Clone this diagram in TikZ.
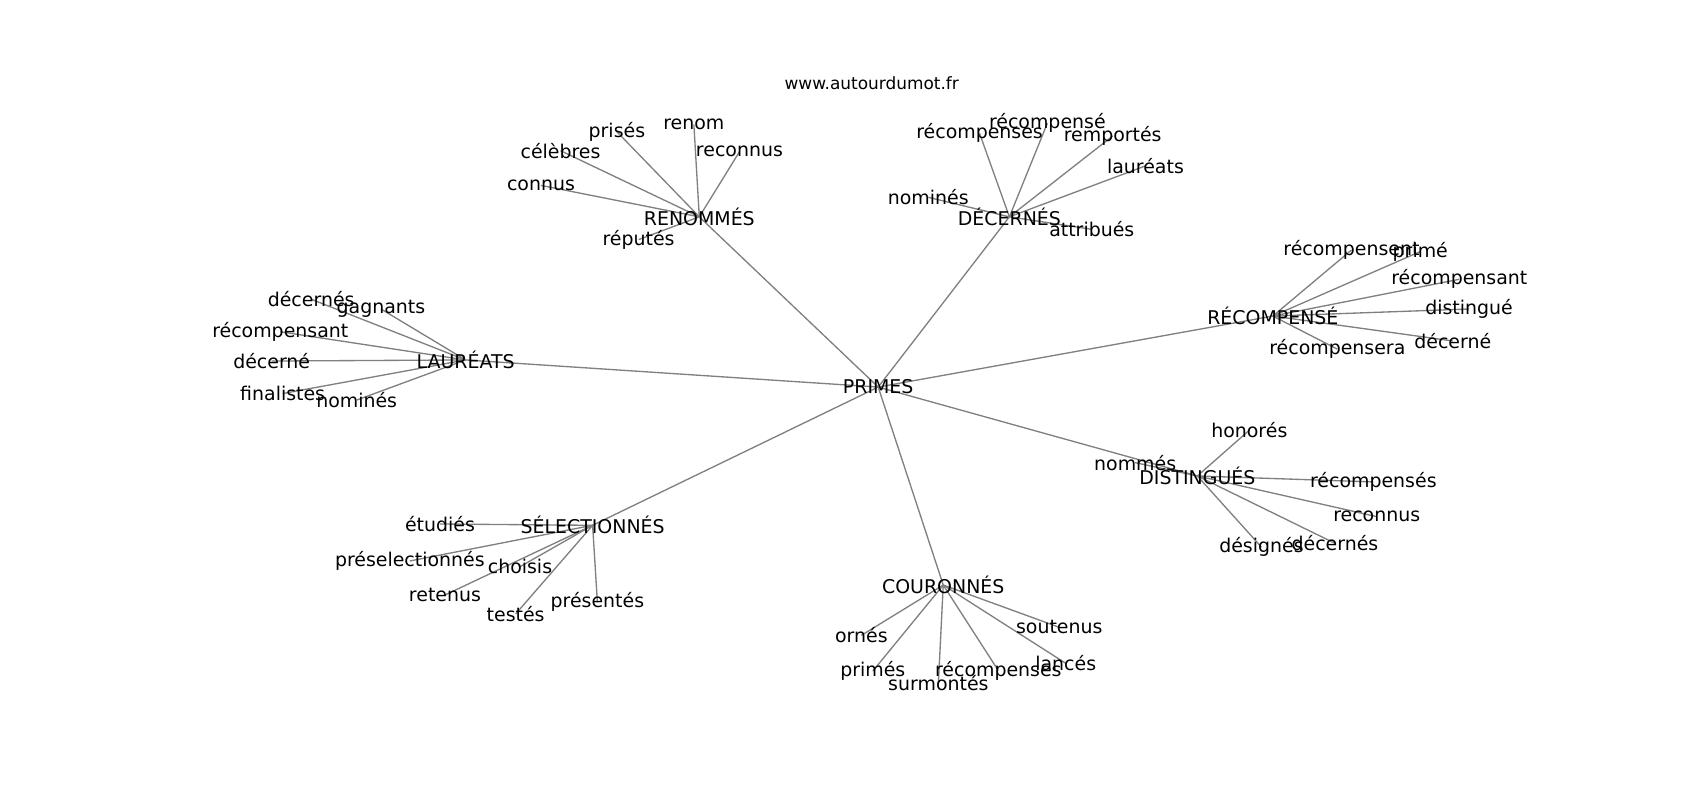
\documentclass[tikz,border=0pt]{standalone}
\usepackage{fontspec}
\setmainfont{DejaVu Sans}
\usetikzlibrary{backgrounds}
\begin{document}
\begin{tikzpicture}[x=0.81314pt,y=-0.81314pt,
  lbl/.style={inner sep=0pt, text=black, font=\fontsize{14.2}{17}\selectfont},
  ttl/.style={inner sep=0pt, text=black, font=\fontsize{12.7}{15}\selectfont},
  edge/.style={draw=gray, line width=1pt}]
\useasboundingbox (0,0) rectangle (1568,738);
\node[ttl] (title) at (804,76.3) {www.autourdumot.fr};
\begin{scope}
\clip (197,88.5) rectangle (1411,656.7);
% hub
\node[lbl] (primes) at (810,357) {PRIMES};
% RENOMMÉS
\node[lbl] (renommes) at (645,200) {RENOMMÉS};
\node[lbl] (renom) at (640,115) {renom};
\node[lbl] (reconnusA) at (682,140) {reconnus};
\node[lbl] (prises) at (569,121.5) {prisés};
\node[lbl] (celebres) at (517,139) {célèbres};
\node[lbl] (connus) at (499,171) {connus};
\node[lbl] (reputes) at (589,221) {réputés};
% DÉCERNÉS
\node[lbl] (decernes) at (931,200) {DÉCERNÉS};
\node[lbl] (recompenseA) at (966,113.7) {récompensé};
\node[lbl] (recompensesA) at (903.5,123) {récompenses};
\node[lbl] (remportes) at (1026.3,125.4) {remportés};
\node[lbl] (laureatsA) at (1056.5,153) {lauréats};
\node[lbl] (nominesA) at (856.2,182) {nominés};
\node[lbl] (attribues) at (1007,211.5) {attribués};
% RÉCOMPENSÉ
\node[lbl] (recompense) at (1174,291.5) {RÉCOMPENSÉ};
\node[lbl] (recompensent) at (1246.5,230.6) {récompensent};
\node[lbl] (prime) at (1310,232) {primé};
\node[lbl] (recompensantA) at (1346,257.6) {récompensant};
\node[lbl] (distingue) at (1355,285) {distingué};
\node[lbl] (decerneA) at (1340,314.5) {décerné};
\node[lbl] (recompensera) at (1233.5,322) {récompensera};
% LAURÉATS
\node[lbl] (laureats) at (429.5,332) {LAURÉATS};
\node[lbl] (decernesB) at (287,276) {décernés};
\node[lbl] (gagnants) at (351.4,285) {gagnants};
\node[lbl] (recompensantB) at (258.5,306) {récompensant};
\node[lbl] (decerneB) at (250.6,333) {décerné};
\node[lbl] (finalistes) at (260.7,363) {finalistes};
\node[lbl] (nominesB) at (329,369) {nominés};
% SÉLECTIONNÉS
\node[lbl] (selectionnes) at (546.6,484.5) {SÉLECTIONNÉS};
\node[lbl] (etudies) at (405.8,483.3) {étudiés};
\node[lbl] (preselectionnes) at (378,517.4) {préselectionnés};
\node[lbl] (choisis) at (479.6,522.7) {choisis};
\node[lbl] (retenus) at (410.4,548.8) {retenus};
\node[lbl] (testes) at (475.6,566.3) {testés};
\node[lbl] (presentes) at (551,555.5) {présentés};
% COURONNÉS
\node[lbl] (couronnes) at (870,539.6) {COURONNÉS};
\node[lbl] (ornes) at (794.5,586) {ornés};
\node[lbl] (primes2) at (805,619) {primés};
\node[lbl] (surmontes) at (865.5,630.3) {surmontés};
\node[lbl] (recompensesC) at (920.8,618.5) {récompenses};
\node[lbl] (lances) at (983,611.8) {lancés};
\node[lbl] (soutenus) at (977,578.6) {soutenus};
% DISTINGUÉS
\node[lbl] (distingues) at (1104.4,439) {DISTINGUÉS};
\node[lbl] (honores) at (1152.3,396.8) {honorés};
\node[lbl] (nommes) at (1047,426.7) {nommés};
\node[lbl] (recompensesD) at (1266.7,444.5) {récompensés};
\node[lbl] (reconnusD) at (1269.8,476.5) {reconnus};
\node[lbl] (designes) at (1163.5,504.6) {désignés};
\node[lbl] (decernesD) at (1231.3,501.1) {décernés};
\end{scope}
\begin{pgfonlayer}{background}
\foreach \a/\b in {primes/renommes, primes/decernes, primes/recompense, primes/laureats,
  primes/selectionnes, primes/couronnes, primes/distingues,
  renommes/renom, renommes/reconnusA, renommes/prises, renommes/celebres, renommes/connus, renommes/reputes,
  decernes/recompenseA, decernes/recompensesA, decernes/remportes, decernes/laureatsA, decernes/nominesA, decernes/attribues,
  recompense/recompensent, recompense/prime, recompense/recompensantA, recompense/distingue, recompense/decerneA, recompense/recompensera,
  laureats/decernesB, laureats/gagnants, laureats/recompensantB, laureats/decerneB, laureats/finalistes, laureats/nominesB,
  selectionnes/etudies, selectionnes/preselectionnes, selectionnes/choisis, selectionnes/retenus, selectionnes/testes, selectionnes/presentes,
  couronnes/ornes, couronnes/primes2, couronnes/surmontes, couronnes/recompensesC, couronnes/lances, couronnes/soutenus,
  distingues/honores, distingues/nommes, distingues/recompensesD, distingues/reconnusD, distingues/designes, distingues/decernesD}
  \draw[edge] (\a.center) -- (\b.center);
\end{pgfonlayer}
\end{tikzpicture}
\end{document}
